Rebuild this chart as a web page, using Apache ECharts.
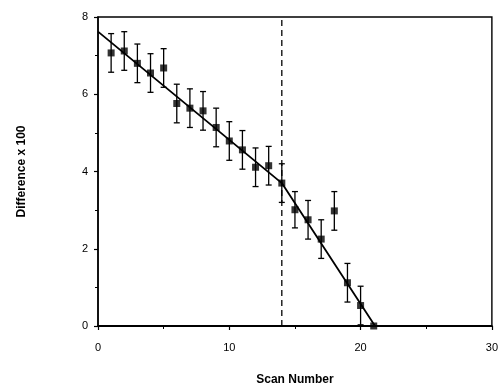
<!DOCTYPE html>
<html>
<head>
<meta charset="utf-8">
<script src="https://cdn.jsdelivr.net/npm/echarts@6/dist/echarts.min.js"></script>
<style>
  html, body { margin: 0; padding: 0; background: #fff; }
  #chart { width: 501px; height: 391px; }
</style>
</head>
<body>
<div id="chart"></div>
<script>
// measured scans
const scans = [1, 2, 3, 4, 5, 6, 7, 8, 9, 10, 11, 12, 13, 14, 15, 16, 17, 18, 19, 20, 21]
const diffs = [7.07, 7.12, 6.80, 6.55, 6.68, 5.76, 5.64, 5.57, 5.14, 4.79, 4.56, 4.11, 4.15, 3.70, 3.01, 2.75, 2.25, 2.98, 1.12, 0.53, 0.0]
const errs = [0.5, 0.5, 0.5, 0.5, 0.5, 0.5, 0.5, 0.5, 0.5, 0.5, 0.5, 0.5, 0.5, 0.5, 0.47, 0.5, 0.5, 0.5, 0.5, 0.5, 0]

// two-segment fit
const fitX = [0, 14, 21.1]
const fitY = [7.62, 3.70, 0]

// break point
const breakX = 14
const yTop = 8

const font = 'Liberation Sans, Arial, sans-serif'

const chart = echarts.init(document.getElementById('chart'))

const points = scans.map((x, i) => [x, diffs[i]])
const bars = scans.map((x, i) => [x, Math.max(0, diffs[i] - errs[i]), diffs[i] + errs[i]])

chart.setOption({
  animation: false,
  grid: {
    left: 98, right: 9, top: 17, bottom: 64,
    show: true, borderColor: '#000', borderWidth: 1.4,
  },
  xAxis: {
    type: 'value', min: 0, max: 30, interval: 10,
    name: 'Scan Number', nameLocation: 'middle', nameGap: 48,
    nameTextStyle: { fontFamily: font, fontWeight: 'bold', fontSize: 12, color: '#000' },
    axisLine: { show: true, onZero: false, lineStyle: { color: '#000', width: 1.8 } },
    axisTick: { show: true, length: 4, lineStyle: { color: '#000', width: 1.2 } },
    minorTick: { show: true, splitNumber: 2, length: 3, lineStyle: { color: '#000', width: 1 } },
    axisLabel: { fontFamily: font, fontSize: 11, color: '#000', margin: 16 },
    splitLine: { show: false },
  },
  yAxis: {
    type: 'value', min: 0, max: 8, interval: 2,
    name: 'Difference x 100', nameLocation: 'middle', nameGap: 70,
    nameTextStyle: { fontFamily: font, fontWeight: 'bold', fontSize: 12, color: '#000' },
    axisLine: { show: true, onZero: false, lineStyle: { color: '#000', width: 1.5 } },
    axisTick: { show: true, length: 4, lineStyle: { color: '#000', width: 1.2 } },
    minorTick: { show: true, splitNumber: 2, length: 3, lineStyle: { color: '#000', width: 1 } },
    axisLabel: { fontFamily: font, fontSize: 11, color: '#000', margin: 10 },
    splitLine: { show: false },
  },
  series: [
    {
      type: 'line',
      data: [[breakX, 0], [breakX, yTop]],
      symbol: 'none',
      lineStyle: { color: '#000', width: 1.3, type: [6, 4] },
      z: 1,
    },
    {
      type: 'line',
      data: fitX.map((x, i) => [x, fitY[i]]),
      symbol: 'none',
      lineStyle: { color: '#000', width: 1.8 },
      z: 2,
    },
    {
      type: 'custom',
      data: bars,
      renderItem: (params, api) => {
        const x = api.value(0)
        const lo = api.value(1)
        const hi = api.value(2)
        if (hi - lo <= 0) return null
        const top = api.coord([x, hi])
        const bot = api.coord([x, lo])
        const w = 3
        const style = { stroke: '#000', lineWidth: 1.3 }
        return {
          type: 'group',
          children: [
            { type: 'line', shape: { x1: top[0], y1: top[1], x2: bot[0], y2: bot[1] }, style },
            { type: 'line', shape: { x1: top[0] - w, y1: top[1], x2: top[0] + w, y2: top[1] }, style },
            { type: 'line', shape: { x1: bot[0] - w, y1: bot[1], x2: bot[0] + w, y2: bot[1] }, style },
          ],
        }
      },
      z: 3,
    },
    {
      type: 'scatter',
      data: points,
      symbol: 'rect',
      symbolSize: 7,
      itemStyle: { color: '#000' },
      z: 4,
    },
  ],
})
</script>
</body>
</html>
